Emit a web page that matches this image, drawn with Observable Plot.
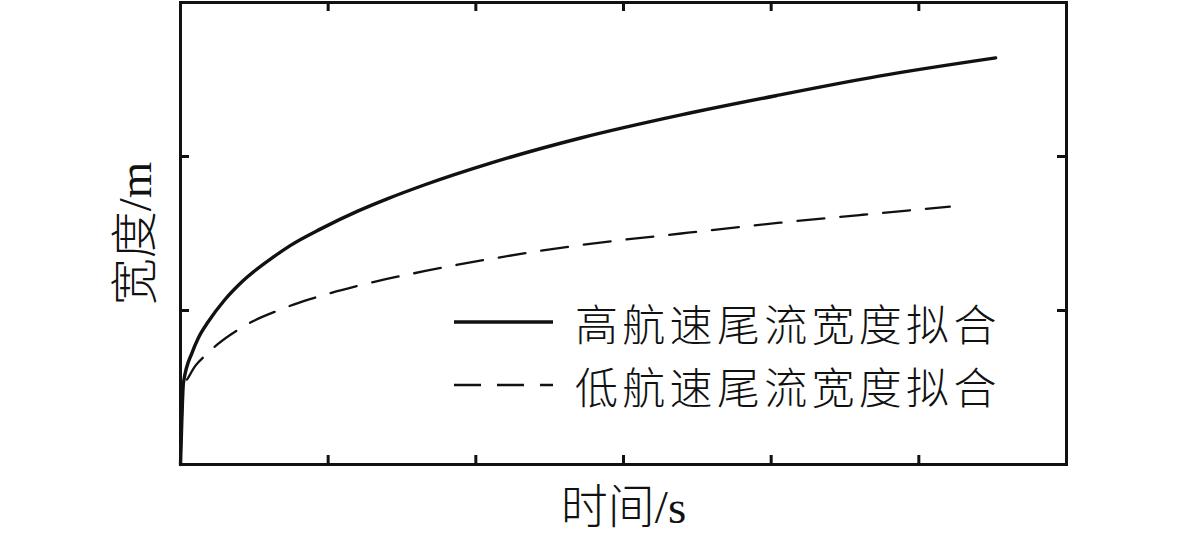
<!DOCTYPE html>
<html><head><meta charset="utf-8">
<script src="https://cdn.jsdelivr.net/npm/d3@7"></script>
<script src="https://cdn.jsdelivr.net/npm/@observablehq/plot@0.6"></script>
<style>
body{margin:0;background:#fff}
#wrap{position:relative;width:1181px;height:535px;font-family:"Liberation Serif","Noto Sans CJK SC",serif;color:#111}
.lt{position:absolute;font-size:43px;letter-spacing:4.3px;line-height:48px;height:48px;white-space:nowrap;font-family:"Noto Sans CJK SC",sans-serif;font-weight:300}
.ls{position:absolute}
</style></head>
<body><div id="wrap"></div>
<script>
// time (arbitrary units, 6 tick intervals) and width values
const highT = [0, 0.01, 0.02, 0.08, 0.12, 0.19, 0.30, 0.42, 0.64, 0.74, 0.95, 1.20, 1.40, 1.65, 2.10, 2.71, 3.39, 4.06, 4.72, 5.52];
const highW = [0, 0.32, 0.53, 0.73, 0.82, 0.93, 1.07, 1.19, 1.355, 1.42, 1.53, 1.645, 1.725, 1.815, 1.957, 2.12, 2.27, 2.40, 2.52, 2.64];
const lowT = [0, 0.01, 0.02, 0.05, 0.10, 0.17, 0.25, 0.39, 0.49, 0.66, 0.77, 0.95, 1.20, 1.65, 2.10, 2.71, 3.39, 4.06, 4.60, 5.21];
const lowW = [0, 0.32, 0.51, 0.56, 0.64, 0.71, 0.78, 0.875, 0.93, 1.00, 1.04, 1.095, 1.16, 1.255, 1.335, 1.425, 1.50, 1.57, 1.62, 1.675];
const xTicks = [0, 1, 2, 3, 4, 5, 6];
const yTicks = [0, 1, 2, 3];
const seriesNames = ["高航速尾流宽度拟合", "低航速尾流宽度拟合"];
const xLabel = ["时间/s"];
const yLabel = ["宽度/m"];

const high = highT.map((t, i) => ({t, w: highW[i]}));
const low = lowT.map((t, i) => ({t, w: lowW[i]}));

const W = 1181, H = 535, mt = 2, mb = 71, ml = 180, mr = 115;
const iw = W - ml - mr, ih = H - mt - mb, tk = 9;
const ff = '"Liberation Serif","Noto Sans CJK SC",serif';

const chart = Plot.plot({
  width: W, height: H,
  marginTop: mt, marginBottom: mb, marginLeft: ml, marginRight: mr,
  style: {background: "#fff", color: "#111", fontFamily: ff, overflow: "visible"},
  x: {domain: [0, 6], axis: null},
  y: {domain: [0, 3], axis: null},
  marks: [
    Plot.line(low, {x: "t", y: "w", curve: "monotone-x", stroke: "#111", strokeWidth: 2.3, strokeDasharray: "27,16"}),
    Plot.line(high, {x: "t", y: "w", curve: "monotone-x", stroke: "#111", strokeWidth: 3.4}),
    Plot.tickX(xTicks, {x: d => d, insetTop: ih - tk, stroke: "#111", strokeWidth: 3}),
    Plot.tickX(xTicks, {x: d => d, insetBottom: ih - tk, stroke: "#111", strokeWidth: 3}),
    Plot.tickY(yTicks, {y: d => d, insetRight: iw - tk, stroke: "#111", strokeWidth: 3}),
    Plot.tickY(yTicks, {y: d => d, insetLeft: iw - tk, stroke: "#111", strokeWidth: 3}),
    Plot.frame({stroke: "#111", strokeWidth: 3}),
    Plot.text(xLabel, {text: d => d, frameAnchor: "bottom", lineAnchor: "middle", textAnchor: "middle", dy: 43, fontSize: 47, fill: "#111", fontFamily: ff, fontWeight: 300}),
    Plot.text(yLabel, {text: d => d, frameAnchor: "left", lineAnchor: "middle", textAnchor: "middle", dx: -45, rotate: -90, fontSize: 47, fill: "#111", fontFamily: ff, fontWeight: 300})
  ]
});
const wrap = document.getElementById("wrap");
wrap.appendChild(chart);

// legend (HTML overlay)
const rows = [{name: seriesNames[0], cy: 322, dash: null, sw: 3.4}, {name: seriesNames[1], cy: 385, dash: "27,16", sw: 2.3}];
rows.forEach(r => {
  const s = document.createElementNS("http://www.w3.org/2000/svg", "svg");
  s.setAttribute("class", "ls");
  s.setAttribute("width", 102); s.setAttribute("height", 10);
  s.style.left = "453px"; s.style.top = (r.cy - 5) + "px";
  const l = document.createElementNS("http://www.w3.org/2000/svg", "line");
  l.setAttribute("x1", 1); l.setAttribute("x2", 100); l.setAttribute("y1", 5); l.setAttribute("y2", 5);
  l.setAttribute("stroke", "#111"); l.setAttribute("stroke-width", r.sw);
  if (r.dash) l.setAttribute("stroke-dasharray", r.dash);
  s.appendChild(l);
  wrap.appendChild(s);
  const t = document.createElement("div");
  t.className = "lt"; t.textContent = r.name;
  t.style.left = "575px"; t.style.top = (r.cy - 24) + "px";
  wrap.appendChild(t);
});
</script></body></html>
